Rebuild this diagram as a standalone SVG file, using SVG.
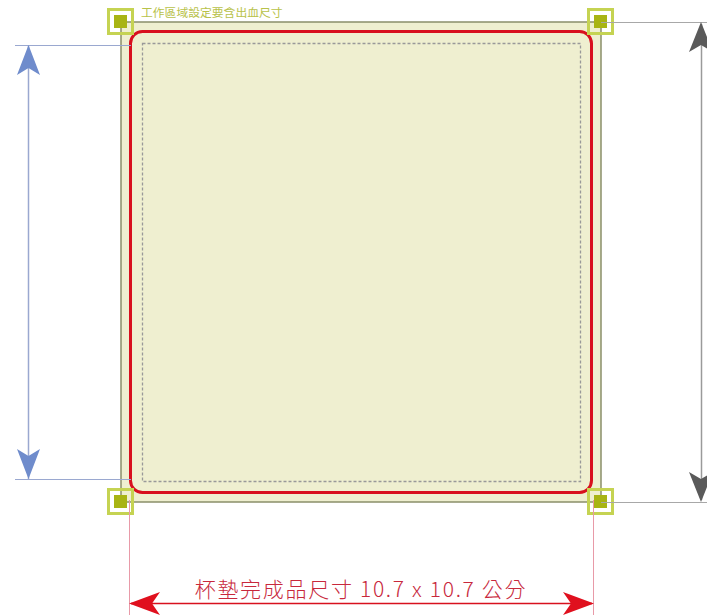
<svg xmlns="http://www.w3.org/2000/svg" width="707" height="615" viewBox="0 0 707 615">
<style>
.ext-gray{stroke:#a8a8a8;stroke-width:1;fill:none}
.ext-blue{stroke:#9aa8d0;stroke-width:1;fill:none}
.ext-red{stroke:#e89aa8;stroke-width:1;fill:none}
.mark-o{fill:none;stroke:#c5d352;stroke-width:3}
.mark-i{fill:#a8b414}
.lbl-s{font-family:"Noto Sans CJK TC","Noto Sans",sans-serif;font-size:11.8px;fill:#b8c24a}
.lbl-m{font-family:"Noto Sans CJK TC","Noto Sans",sans-serif;font-size:21px;font-weight:300;letter-spacing:1.7px;fill:#c8283c}
</style>
<rect width="707" height="615" fill="#ffffff"/>
<g id="artboard">
<rect x="121" y="22" width="480" height="480" fill="#efefd0" stroke="#8a8f6a" stroke-width="1.5"/>
</g>
<g id="trim">
<rect x="130.5" y="31.5" width="461" height="461" rx="12" fill="none" stroke="#d8101e" stroke-width="3"/>
</g>
<g id="safe">
<rect x="142.5" y="43.5" width="438" height="438" fill="none" stroke="#999999" stroke-width="1.3" stroke-dasharray="3,2"/>
</g>
<g id="corner-tl"><rect x="108.5" y="9.5" width="24" height="24" class="mark-o"/><rect x="114" y="15" width="13" height="13" class="mark-i"/></g>
<g id="corner-tr"><rect x="588.5" y="9.5" width="24" height="24" class="mark-o"/><rect x="594" y="15" width="13" height="13" class="mark-i"/></g>
<g id="corner-bl"><rect x="108.5" y="489.5" width="24" height="24" class="mark-o"/><rect x="114" y="495" width="13" height="13" class="mark-i"/></g>
<g id="corner-br"><rect x="588.5" y="489.5" width="24" height="24" class="mark-o"/><rect x="594" y="495" width="13" height="13" class="mark-i"/></g>
<g id="label-top"><text x="141" y="17" class="lbl-s">工作區域設定要含出血尺寸</text></g>
<g id="connectors">
<line x1="15" y1="45.5" x2="131" y2="45.5" class="ext-blue"/>
<line x1="15" y1="479.5" x2="131" y2="479.5" class="ext-blue"/>
<line x1="28.5" y1="46" x2="28.5" y2="479" stroke="#9aa8d0" stroke-width="1.5"/>
<path d="M28.5 45 L40 75 L28.5 68 L17 75 Z" fill="#6f8ccc"/>
<path d="M28.5 479 L40 449 L28.5 456 L17 449 Z" fill="#6f8ccc"/>
<line x1="601" y1="22.5" x2="707" y2="22.5" class="ext-gray"/>
<line x1="601" y1="502.5" x2="707" y2="502.5" class="ext-gray"/>
<line x1="701.5" y1="24" x2="701.5" y2="500" stroke="#9a9a9a" stroke-width="1.5"/>
<path d="M701 22 L713 52 L701 45 L689 52 Z" fill="#5a5a5a"/>
<path d="M701 502 L713 472 L701 479 L689 472 Z" fill="#5a5a5a"/>
<line x1="129.5" y1="500" x2="129.5" y2="615" class="ext-red"/>
<line x1="593.5" y1="500" x2="593.5" y2="615" class="ext-red"/>
<line x1="131" y1="603.5" x2="592" y2="603.5" stroke="#d8101e" stroke-width="1.5"/>
<path d="M129 603.5 L160 592 L152 603.5 L160 615 Z" fill="#e0101e"/>
<path d="M594 603.5 L563 592 L571 603.5 L563 615 Z" fill="#e0101e"/>
</g>
<g id="label-bottom"><text x="361" y="597" text-anchor="middle" class="lbl-m">杯墊完成品尺寸 10.7 x 10.7 公分</text></g>
</svg>
